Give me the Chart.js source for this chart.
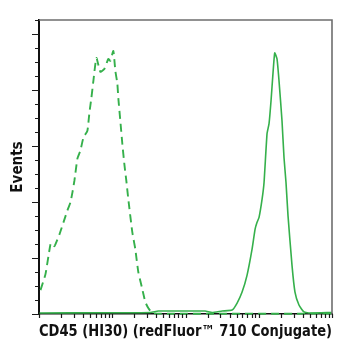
<!DOCTYPE html>
<html>
<head>
<meta charset="utf-8">
<script src="https://cdn.jsdelivr.net/npm/chart.js@4.4.1/dist/chart.umd.min.js"></script>
<style>
  html, body { margin: 0; padding: 0; background: #fff; }
  #wrap { width: 364px; height: 364px; }
</style>
</head>
<body>
<div id="wrap"><canvas id="c" width="364" height="364"></canvas></div>
<script>
// ---- data ----
const xTitle = 'CD45 (HI30) (redFluor\u2122 710 Conjugate)';
const yTitle = 'Events';

// isotype / control (dashed)
const dashedX = [10.48, 12.26, 14.35, 15.27, 16.26, 19.02, 21.57, 24.45, 26.87, 28.61, 30.46, 33.46, 36.76, 40.40, 45.79, 48.75, 51.91, 55.27, 60.74, 68.85, 78.04, 88.49, 94.2, 103.5, 110.2, 117.3, 121.1, 128.9, 137.3, 146.2, 155.6, 165.7, 187.8, 206.4, 226.8, 257.1, 282.5, 310.3, 351.8, 452.2, 100000];
const dashedY = [42.7, 71.2, 124.6, 126.3, 121.0, 142.3, 163.7, 185.1, 199.3, 217.1, 238.4, 277.6, 291.8, 315.0, 327.4, 359.4, 386.1, 416.4, 457.3, 432.4, 437.7, 455.5, 452.0, 469.8, 434.2, 412, 385, 345, 304, 268, 238, 205, 146, 116, 75, 44.5, 21.4, 10.7, 1.8, 0.6, 0.6];

// stained (solid)
const solidX = [10.16, 68.85, 330.4, 424.7, 846.9, 1855, 2311, 3162, 4328, 5063, 5923, 6929, 8103, 8904, 9480, 10094, 11092, 11810, 12977, 13818, 14713, 15661, 16519, 17756, 18907, 20771, 22115, 23551, 25071, 28428, 31227, 35401, 41422, 48453, 100000];
const solidY = [1.8, 2.1, 2.7, 5.3, 5.3, 5.3, 2.7, 5.3, 7.1, 19.6, 39.1, 69.4, 115.7, 151.2, 163.7, 172.6, 204.6, 234.9, 322.1, 339.9, 380.8, 430.6, 466.2, 455.5, 416.4, 345.2, 279.4, 234.9, 176.2, 87.2, 39.1, 16.0, 3.6, 1.8, 2.7];

// axis ranges / ticks
const xMin = 10, xMax = 100000;
const yMin = 0, yMax = 525;
const yMajorTicks = [0, 100, 200, 300, 400, 500];
const yMinorTicks = [25, 50, 75, 125, 150, 175, 225, 250, 275, 325, 350, 375, 425, 450, 475, 525];
const xDecades = [10, 100, 1000, 10000, 100000];
const xSubSteps = [2, 3, 4, 5, 6, 7, 8, 9];

// ---- build ----
const green = '#35b04b';
const toPts = (xs, ys) => xs.map((x, i) => ({ x: x, y: ys[i] }));

const TITLE_FONT = { family: '"Liberation Sans Narrow", "Arial Narrow", "DejaVu Sans Condensed", sans-serif', size: 15, weight: 'bold' };

const tickPlugin = {
  id: 'axisTicks',
  afterDatasetsDraw(chart) {
    const { ctx, chartArea: a, scales: { x, y } } = chart;
    ctx.save();
    // frame (top and right)
    ctx.strokeStyle = '#6e6e6e';
    ctx.lineWidth = 1.6;
    ctx.beginPath();
    ctx.moveTo(a.left, a.top);
    ctx.lineTo(a.right, a.top);
    ctx.lineTo(a.right, a.bottom);
    ctx.stroke();
    ctx.strokeStyle = '#1a1a1a';
    ctx.lineWidth = 1.2;
    ctx.beginPath();
    yMajorTicks.forEach(v => { const p = Math.round(y.getPixelForValue(v)) + 0.5; ctx.moveTo(a.left - 7, p); ctx.lineTo(a.left, p); });
    yMinorTicks.forEach(v => { const p = Math.round(y.getPixelForValue(v)) + 0.5; ctx.moveTo(a.left - 4, p); ctx.lineTo(a.left, p); });
    xDecades.forEach((d, i) => {
      const p = Math.round(x.getPixelForValue(d)) + 0.5;
      ctx.moveTo(p, a.bottom); ctx.lineTo(p, a.bottom + 4);
      if (i < xDecades.length - 1) {
        xSubSteps.forEach(s => {
          const q = Math.round(x.getPixelForValue(d * s)) + 0.5;
          ctx.moveTo(q, a.bottom); ctx.lineTo(q, a.bottom + 4);
        });
      }
    });
    ctx.stroke();
    ctx.restore();
  }
};

new Chart(document.getElementById('c'), {
  type: 'line',
  data: {
    datasets: [
      {
        data: toPts(solidX, solidY),
        borderColor: green,
        borderWidth: 1.6,
        pointRadius: 0,
        tension: 0.15,
        fill: false,
        clip: false
      },
      {
        data: toPts(dashedX, dashedY),
        borderColor: green,
        borderWidth: 1.9,
        borderDash: [8, 5],
        pointRadius: 0,
        tension: 0.15,
        fill: false,
        clip: false
      }
    ]
  },
  options: {
    responsive: false,
    animation: false,
    devicePixelRatio: 1,
    layout: { padding: { top: 20, right: 32, left: 0, bottom: 0 } },
    plugins: { legend: { display: false }, tooltip: { enabled: false } },
    scales: {
      x: {
        type: 'logarithmic',
        min: xMin, max: xMax,
        grid: { display: false },
        border: { display: true, color: '#111', width: 1.6 },
        ticks: { display: false },
        title: { display: true, text: xTitle, color: '#111', font: TITLE_FONT, padding: { top: 0, bottom: 23 } },
        afterFit: s => { s.height = 50; }
      },
      y: {
        type: 'linear',
        min: yMin, max: yMax,
        grid: { display: false },
        border: { display: true, color: '#111', width: 2 },
        ticks: { display: false },
        title: { display: true, text: yTitle, color: '#111', font: TITLE_FONT, padding: { top: 9.5, bottom: 0 } },
        afterFit: s => { s.width = 39; }
      }
    }
  },
  plugins: [tickPlugin]
});
</script>
</body>
</html>
